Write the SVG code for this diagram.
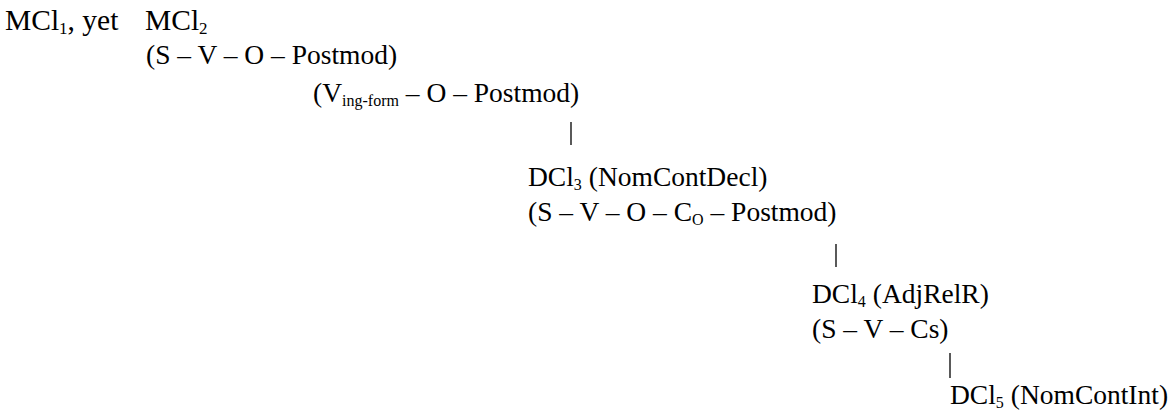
<svg xmlns="http://www.w3.org/2000/svg" width="1172" height="411" viewBox="0 0 1172 411">
<style>
text{font-family:"Liberation Serif","Times New Roman",serif;font-size:27.5px;fill:#000}
.top{font-size:29.5px}
.sub{font-size:16px}
.top .sub{font-size:17px}
.conn line{stroke:#000;stroke-width:1.3}
</style>
<rect width="1172" height="411" fill="#fff"/>
<g id="mcl">
<text class="top" x="5" y="30">MCl<tspan class="sub" dy="4">1</tspan><tspan dy="-4">, yet</tspan></text>
<text class="top" x="145" y="30">MCl<tspan class="sub" dy="4">2</tspan></text>
<text x="146" y="64">(S – V – O – Postmod)</text>
</g>
<g id="ving">
<text x="313" y="102">(V<tspan class="sub" dy="4">ing-form</tspan><tspan dy="-4"> – O – Postmod)</tspan></text>
</g>
<g id="dcl3">
<text x="528" y="186">DCl<tspan class="sub" dy="4">3</tspan><tspan dy="-4"> (NomContDecl)</tspan></text>
<text x="528" y="221">(S – V – O – C<tspan class="sub" dy="4">O</tspan><tspan dy="-4"> – Postmod)</tspan></text>
</g>
<g id="dcl4">
<text x="812" y="303">DCl<tspan class="sub" dy="4">4</tspan><tspan dy="-4"> (AdjRelR)</tspan></text>
<text x="812" y="338">(S – V – Cs)</text>
</g>
<g id="dcl5">
<text x="950" y="404">DCl<tspan class="sub" dy="4">5</tspan><tspan dy="-4"> (NomContInt)</tspan></text>
</g>
<g class="conn" id="connectors">
<line x1="571" y1="122" x2="571" y2="145"/>
<line x1="836" y1="244" x2="836" y2="267"/>
<line x1="950" y1="353" x2="950" y2="378"/>
</g>
</svg>
